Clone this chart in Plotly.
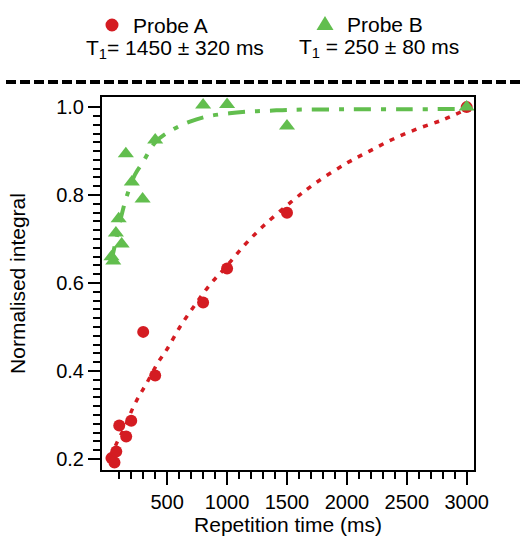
import plotly.graph_objects as go

# ---- data ----
probe_a_t = [35, 60, 75, 100, 158, 200, 300, 400, 800, 1000, 1500, 3000]
probe_a_v = [0.202, 0.192, 0.217, 0.276, 0.251, 0.287, 0.489, 0.390, 0.556, 0.633, 0.760, 1.000]

probe_b_t = [35, 50, 72, 95, 120, 155, 205, 295, 400, 800, 1000, 1500, 3000]
probe_b_v = [0.660, 0.650, 0.714, 0.746, 0.689, 0.894, 0.830, 0.791, 0.925, 1.005, 1.006, 0.957, 1.000]

fit_a_t = [25, 78, 150, 217, 272, 328, 425, 495, 606, 731, 856, 995, 1148, 1300, 1537,
           1731, 1995, 2189, 2383, 2592, 2800, 2990]
fit_a_v = [0.205, 0.236, 0.275, 0.318, 0.346, 0.372, 0.420, 0.448, 0.500, 0.550, 0.596,
           0.638, 0.687, 0.729, 0.785, 0.826, 0.872, 0.900, 0.927, 0.951, 0.971, 0.994]

fit_b_t = [30, 75, 120, 160, 230, 300, 400, 540, 690, 840, 1020, 1190, 1360, 1540, 2000, 2500, 2950]
fit_b_v = [0.645, 0.700, 0.755, 0.795, 0.846, 0.876, 0.920, 0.948, 0.967, 0.979, 0.986,
           0.990, 0.992, 0.994, 0.995, 0.995, 0.996]

x_major = [500, 1000, 1500, 2000, 2500, 3000]
x_minor = [v for v in range(100, 3000, 100) if v % 500 != 0]
y_major = [0.2, 0.4, 0.6, 0.8, 1.0]
y_minor = [round(0.2 + 0.02 * i, 2) for i in range(1, 40) if i % 10 != 0]

label_a = "Probe A"
label_b = "Probe B"
t1_a = "T<sub>1</sub>= 1450 ± 320 ms"
t1_b = "T<sub>1</sub> = 250 ± 80 ms"

RED = "rgb(212,28,34)"
GREEN = "rgb(98,190,78)"
FONT = "Liberation Sans, Arial, sans-serif"

fig = go.Figure()
fig.add_trace(go.Scatter(x=fit_a_t, y=fit_a_v, mode="lines", line_shape="spline",
                         line=dict(color=RED, width=3.5, dash="5px,7px"), showlegend=False))
fig.add_trace(go.Scatter(x=probe_a_t, y=probe_a_v, mode="markers",
                         marker=dict(symbol="circle", size=12, color=RED), showlegend=False))
fig.add_trace(go.Scatter(x=fit_b_t, y=fit_b_v, mode="lines", line_shape="spline",
                         line=dict(color=GREEN, width=4, dash="17px,10px,5px,10px"), showlegend=False))
fig.add_trace(go.Scatter(x=probe_b_t, y=probe_b_v, mode="markers",
                         marker=dict(symbol="triangle-up", size=14, color=GREEN), showlegend=False))

L, R, T, B = 102, 46, 97, 66
W, H = 520, 536
pw, ph = W - L - R, H - T - B


def px(x):
    return (x - L) / pw


def py(y):
    return (H - B - y) / ph


fig.update_layout(
    width=W, height=H,
    margin=dict(l=L, r=R, t=T, b=B),
    paper_bgcolor="white", plot_bgcolor="white",
    font=dict(family=FONT, size=20, color="black"),
    xaxis=dict(
        range=[-44, 3061], tickmode="array", tickvals=x_major,
        ticktext=[str(v) for v in x_major], automargin=False,
        ticks="outside", ticklen=13, tickwidth=1.5, tickcolor="black",
        showline=True, linecolor="black", linewidth=2, mirror=True,
        showgrid=False, zeroline=False,
        minor=dict(tickmode="array", tickvals=x_minor, ticks="outside",
                   ticklen=7, tickwidth=1.5, tickcolor="black", showgrid=False),
        title=dict(text="Repetition time (ms)", standoff=13, font=dict(size=21)),
        tickfont=dict(size=20),
    ),
    yaxis=dict(
        range=[0.175, 1.023], tickmode="array", tickvals=y_major,
        ticktext=["%.1f" % v for v in y_major], automargin=False,
        ticks="outside", ticklen=12, tickwidth=1.5, tickcolor="black",
        showline=True, linecolor="black", linewidth=2, mirror=True,
        showgrid=False, zeroline=False,
        minor=dict(tickmode="array", tickvals=y_minor, ticks="outside",
                   ticklen=7, tickwidth=1.5, tickcolor="black", showgrid=False),
        title=dict(text="Normalised integral", standoff=25, font=dict(size=21)),
        tickfont=dict(size=20),
    ),
)

# dashed separator line
fig.add_shape(type="line", xref="paper", yref="paper",
              x0=px(6), x1=px(522), y0=py(82), y1=py(82),
              line=dict(color="black", width=4, dash="10px,4px"))

# legend markers
fig.add_shape(type="circle", xref="paper", yref="paper",
              xsizemode="pixel", ysizemode="pixel",
              xanchor=px(112), yanchor=py(25),
              x0=-6.5, x1=6.5, y0=-6.5, y1=6.5,
              fillcolor=RED, line=dict(color=RED, width=0))
fig.add_shape(type="path", xref="paper", yref="paper",
              xsizemode="pixel", ysizemode="pixel",
              xanchor=px(325), yanchor=py(23),
              path="M -8.5 -7 L 8.5 -7 L 0 7 Z",
              fillcolor=GREEN, line=dict(color=GREEN, width=0))

fig.add_annotation(text=label_a, xref="paper", yref="paper", x=px(131), y=py(25),
                   xanchor="left", yanchor="middle", showarrow=False, font=dict(size=21))
fig.add_annotation(text=t1_a, xref="paper", yref="paper", x=px(175), y=py(49),
                   xanchor="center", yanchor="middle", showarrow=False, font=dict(size=21))
fig.add_annotation(text=label_b, xref="paper", yref="paper", x=px(345), y=py(24),
                   xanchor="left", yanchor="middle", showarrow=False, font=dict(size=21))
fig.add_annotation(text=t1_b, xref="paper", yref="paper", x=px(379), y=py(48),
                   xanchor="center", yanchor="middle", showarrow=False, font=dict(size=21))

fig.write_html("out.html", config={"displayModeBar": False},
               post_script="document.body.style.margin='0';")
